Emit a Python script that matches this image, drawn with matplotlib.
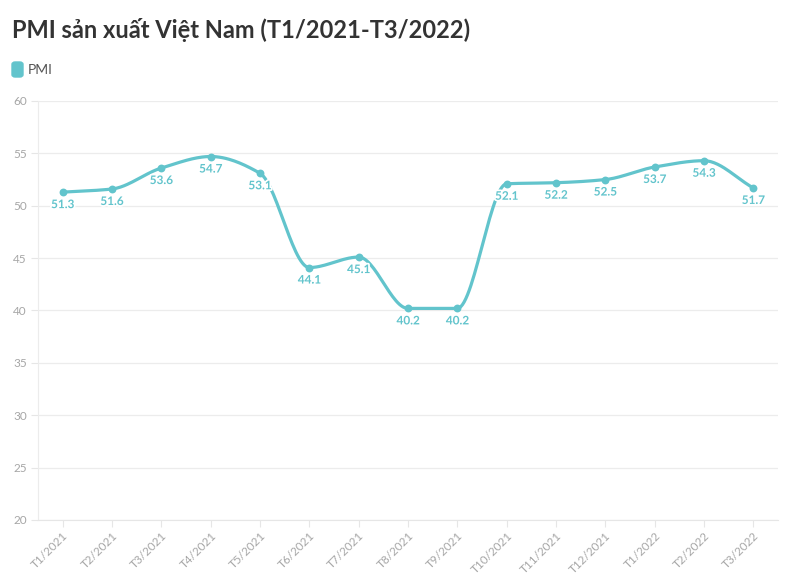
import numpy as np
import matplotlib
matplotlib.use("Agg")
import matplotlib.pyplot as plt
import matplotlib.patheffects as pe
from matplotlib.patches import FancyBboxPatch

months = ["T1/2021", "T2/2021", "T3/2021", "T4/2021", "T5/2021", "T6/2021", "T7/2021",
          "T8/2021", "T9/2021", "T10/2021", "T11/2021", "T12/2021", "T1/2022", "T2/2022", "T3/2022"]
pmi = [51.3, 51.6, 53.6, 54.7, 53.1, 44.1, 45.1, 40.2, 40.2, 52.1, 52.2, 52.5, 53.7, 54.3, 51.7]
yticks = [20, 25, 30, 35, 40, 45, 50, 55, 60]

COLOR = "#62c4cc"
FONT = "Lato"

def monotone(x, y, n=30):
    x = np.asarray(x, float); y = np.asarray(y, float)
    h = np.diff(x); d = np.diff(y) / h
    m = np.zeros_like(y)
    m[0] = d[0]; m[-1] = d[-1]
    for i in range(1, len(y) - 1):
        if d[i - 1] * d[i] <= 0:
            m[i] = 0
        else:
            m[i] = 3 * (h[i - 1] + h[i]) / ((2 * h[i] + h[i - 1]) / d[i - 1] + (h[i] + 2 * h[i - 1]) / d[i])
    xs, ys = [], []
    for i in range(len(y) - 1):
        t = np.linspace(0, 1, n)
        h00 = 2 * t**3 - 3 * t**2 + 1; h10 = t**3 - 2 * t**2 + t
        h01 = -2 * t**3 + 3 * t**2; h11 = t**3 - t**2
        xs.append(x[i] + t * h[i])
        ys.append(h00 * y[i] + h10 * h[i] * m[i] + h01 * y[i + 1] + h11 * h[i] * m[i + 1])
    return np.concatenate(xs), np.concatenate(ys)

fig = plt.figure(figsize=(7.96, 5.75), dpi=100)
ax = fig.add_axes([38 / 796, 1 - 520 / 575, 740 / 796, 419 / 575])

x = np.arange(len(months))
sx, sy = monotone(x, pmi)
ax.plot(sx, sy, color=COLOR, lw=2.3, solid_capstyle="round", zorder=3)
ax.scatter(x, pmi, s=32, color=COLOR, zorder=4, linewidths=0)
for xi, v in zip(x, pmi):
    ax.annotate(f"{v:.1f}", (xi, v), xytext=(0, -9), textcoords="offset points",
                ha="center", va="center", color=COLOR, fontsize=8.5, fontweight="bold",
                family=FONT, zorder=5,
                path_effects=[pe.withStroke(linewidth=2.5, foreground="white")])

ax.set_xlim(-0.5, len(months) - 0.5)
ax.set_ylim(20, 60)
ax.set_yticks(yticks)
ax.set_yticklabels([str(t) for t in yticks], family=FONT, fontsize=8.5, color="#a6a6a6")
ax.set_xticks(x)
ax.set_xticklabels(months, rotation=45, ha="right", rotation_mode="anchor",
                   family=FONT, fontsize=8.5, color="#a6a6a6")
ax.tick_params(axis="y", length=5, color="#e6e6e6", pad=3)
ax.tick_params(axis="x", length=5, color="#e6e6e6", pad=2)
ax.grid(axis="y", color="#ececec", lw=0.9)
ax.set_axisbelow(True)
for s in ["top", "right"]:
    ax.spines[s].set_visible(False)
ax.spines["left"].set_color("#ececec")
ax.spines["bottom"].set_color("#e6e6e6")

fig.text(12 / 796, 1 - 30 / 575, "PMI sản xuất Việt Nam (T1/2021-T3/2022)", family=FONT,
         fontsize=17, fontweight="bold", color="#333333", va="center", ha="left")
fig.patches.append(FancyBboxPatch((12 / 796, 1 - 77 / 575), 11 / 796, 15 / 575,
                                  boxstyle="round,pad=0,rounding_size=0.004",
                                  transform=fig.transFigure, color=COLOR))
fig.text(28 / 796, 1 - 70 / 575, "PMI", family=FONT, fontsize=10, color="#555555",
         va="center", ha="left")

fig.savefig("out.png", dpi=100)
